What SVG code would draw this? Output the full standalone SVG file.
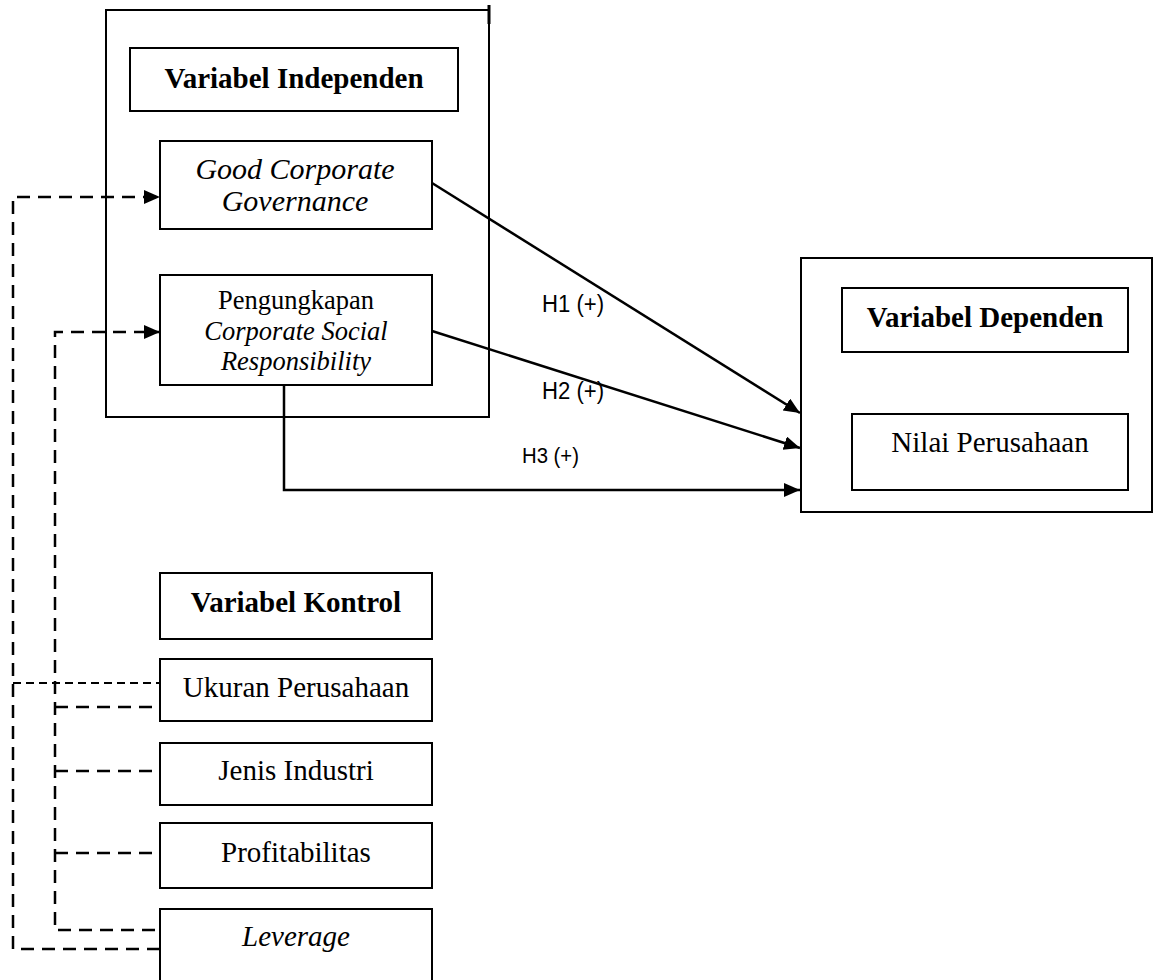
<svg xmlns="http://www.w3.org/2000/svg" width="1154" height="980" viewBox="0 0 1154 980">
<style>
.box{fill:#fff;stroke:#000;stroke-width:2}
.frame{fill:none;stroke:#000;stroke-width:2}
.t{font-family:"Liberation Serif","Times New Roman",serif;font-size:29px;fill:#000;text-anchor:middle}
.b{font-weight:bold}
.i{font-style:italic}
.s{font-size:26.5px}
.lbl{font-family:"Liberation Sans",Arial,sans-serif;font-size:23.5px;fill:#000}
.solid{fill:none;stroke:#000;stroke-width:2.5}
.dash{fill:none;stroke:#000;stroke-width:2.5;stroke-dasharray:13 8}
.dashf{fill:none;stroke:#000;stroke-width:2;stroke-dasharray:8 5}
</style>
<defs>
<marker id="ah" markerUnits="userSpaceOnUse" markerWidth="18" markerHeight="16" refX="16" refY="7" orient="auto">
<path d="M0,0 L16,7 L0,14 Z" fill="#000"/>
</marker>
</defs>
<rect width="1154" height="980" fill="#fff"/>
<g id="independen-group">
<rect class="frame" x="106" y="10" width="383" height="407"/>
<line x1="489" y1="5" x2="489" y2="24" stroke="#000" stroke-width="3"/>
</g>
<g id="var-independen">
<rect class="box" x="130" y="48" width="328" height="63"/>
<text class="t b" x="294" y="88">Variabel Independen</text>
</g>
<g id="gcg">
<rect class="box" x="160" y="141" width="272" height="88"/>
<text class="t i" x="295" y="179" style="font-size:30px">Good Corporate</text>
<text class="t i" x="295" y="211" style="font-size:30px">Governance</text>
</g>
<g id="csr">
<rect class="box" x="160" y="275" width="272" height="110"/>
<text class="t s" x="296" y="309">Pengungkapan</text>
<text class="t s i" x="296" y="340">Corporate Social</text>
<text class="t s i" x="296" y="370">Responsibility</text>
</g>
<g id="dependen-group">
<rect class="frame" x="801" y="258" width="351" height="254"/>
</g>
<g id="var-dependen">
<rect class="box" x="842" y="288" width="286" height="64"/>
<text class="t b" x="985" y="327">Variabel Dependen</text>
</g>
<g id="nilai">
<rect class="box" x="852" y="414" width="276" height="76"/>
<text class="t" x="990" y="452">Nilai Perusahaan</text>
</g>
<g id="var-kontrol">
<rect class="box" x="160" y="573" width="272" height="66"/>
<text class="t b" x="296" y="612">Variabel Kontrol</text>
</g>
<g id="ukuran">
<rect class="box" x="160" y="659" width="272" height="62"/>
<text class="t" x="296" y="697">Ukuran Perusahaan</text>
</g>
<g id="jenis">
<rect class="box" x="160" y="743" width="272" height="62"/>
<text class="t" x="296" y="780">Jenis Industri</text>
</g>
<g id="profit">
<rect class="box" x="160" y="823" width="272" height="65"/>
<text class="t" x="296" y="862">Profitabilitas</text>
</g>
<g id="leverage">
<rect class="box" x="160" y="909" width="272" height="80"/>
<text class="t i" x="296" y="946">Leverage</text>
</g>
<g id="connectors">
<line class="solid" x1="432" y1="183" x2="800" y2="413" marker-end="url(#ah)"/>
<line class="solid" x1="432" y1="331" x2="800" y2="448" marker-end="url(#ah)"/>
<path class="solid" d="M284,385 V490 H800" marker-end="url(#ah)"/>
<path class="dash" d="M160,949 H13 V197 H160" marker-end="url(#ah)"/>
<path class="dash" d="M155,930 H55 V332 H160" marker-end="url(#ah)"/>
<line class="dashf" x1="13" y1="683" x2="160" y2="683"/>
<line class="dash" x1="55" y1="707" x2="160" y2="707"/>
<line class="dash" x1="55" y1="771" x2="160" y2="771"/>
<line class="dash" x1="55" y1="853" x2="160" y2="853"/>
<text class="lbl" x="542" y="312" textLength="62" lengthAdjust="spacingAndGlyphs">H1 (+)</text>
<text class="lbl" x="542" y="399" textLength="62" lengthAdjust="spacingAndGlyphs">H2 (+)</text>
<text class="lbl" x="522" y="463" textLength="57" lengthAdjust="spacingAndGlyphs" style="font-size:21.5px">H3 (+)</text>
</g>
</svg>
